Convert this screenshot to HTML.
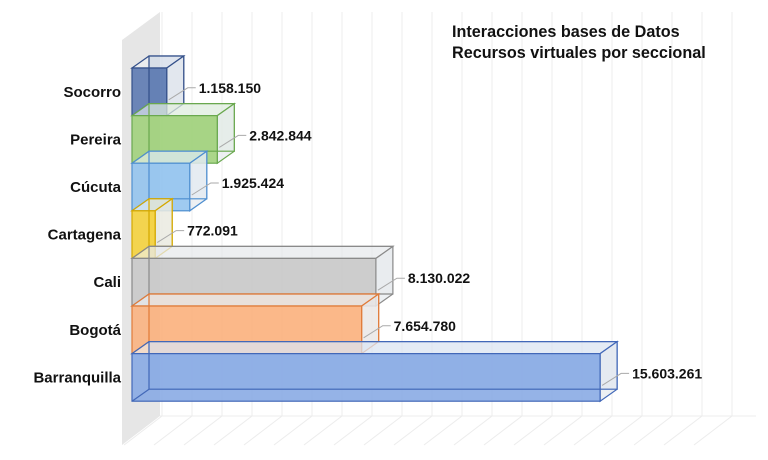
<!DOCTYPE html>
<html><head><meta charset="utf-8"><style>
html,body{margin:0;padding:0;background:#fff;}
svg{display:block;font-family:"Liberation Sans",Arial,sans-serif;}
</style></head><body>
<svg id="s" width="768" height="460" viewBox="0 0 768 460" xmlns="http://www.w3.org/2000/svg">
<rect width="768" height="460" fill="#fff"/>
<polygon points="122,40 160,12 160,416 122,445" fill="#e6e6e6"/>
<g id="grid" stroke="#ececec" stroke-width="1"></g>
<g id="bars"></g>
<text x="452" y="37" font-size="16.2" font-weight="bold" fill="#111">Interacciones bases de Datos</text>
<text x="452" y="58" font-size="16.2" font-weight="bold" fill="#111">Recursos virtuales por seccional</text>
</svg>
<script>
var NS="http://www.w3.org/2000/svg";
function el(p,t,a,txt){var e=document.createElementNS(NS,t);for(var k in a)e.setAttribute(k,a[k]);if(txt)e.textContent=txt;p.appendChild(e);return e;}
var g=document.getElementById('grid');
for(var x=162;x<=756;x+=30){el(g,'line',{x1:x,y1:12,x2:x,y2:416});el(g,'line',{x1:x,y1:416,x2:x-38,y2:445});}
el(g,'line',{x1:160,y1:416,x2:756,y2:416});
var b=document.getElementById('bars');
var data=[
["Socorro",1158150,"1.158.150","#5a78b0","#34508a"],
["Pereira",2842844,"2.842.844","#9fd07a","#6aa84f"],
["Cúcuta",1925424,"1.925.424","#92c3ee","#4f8fd0"],
["Cartagena",772091,"772.091","#f5d23a","#d4a800"],
["Cali",8130022,"8.130.022","#c8c8c8","#8a8a8a"],
["Bogotá",7654780,"7.654.780","#fbb27e","#e07b39"],
["Barranquilla",15603261,"15.603.261","#86a8e4","#4268b8"]];
var dx=17,dy=-12,x0=132;
data.forEach(function(d,i){
 var y=68+i*47.6,h=47.6,w=d[1]/1e6*30,x1=x0+w,c=d[3],st=d[4];
 var gg=el(b,'g',{stroke:st,'stroke-width':1.2});
 el(gg,'rect',{x:x0+dx,y:y+dy,width:w,height:h,fill:c,'fill-opacity':0.35});
 el(gg,'polygon',{points:[x0,y,x0+dx,y+dy,x1+dx,y+dy,x1,y].join(' '),fill:'#eef1f5','fill-opacity':0.6});
 el(gg,'polygon',{points:[x1,y,x1+dx,y+dy,x1+dx,y+h+dy,x1,y+h].join(' '),fill:'#e8ecf0','fill-opacity':0.8});
 el(gg,'rect',{x:x0,y:y,width:w,height:h,fill:c,'fill-opacity':0.88});
 el(gg,'line',{x1:x0,y1:y+h,x2:x0+dx,y2:y+h+dy});
 el(gg,'line',{x1:x0+dx,y1:y+dy,x2:x0+dx,y2:y+h+dy});
 el(gg,'line',{x1:x0+dx,y1:y+h+dy,x2:x1+dx,y2:y+h+dy});
 var ly=y+h/2-2;
 el(b,'polyline',{points:(x1+2)+','+(ly+10)+' '+(x1+dx+4)+','+(ly-2)+' '+(x1+dx+12)+','+(ly-2),fill:'none',stroke:'#aaa','stroke-width':1});
 el(b,'text',{x:x1+dx+15,y:ly+3,'font-size':14,'font-weight':'bold',fill:'#111'},d[2]);
 el(b,'text',{x:121,y:y+h/2+5,'font-size':15,'font-weight':'bold',fill:'#111','text-anchor':'end'},d[0]);
});
</script>
</body></html>
